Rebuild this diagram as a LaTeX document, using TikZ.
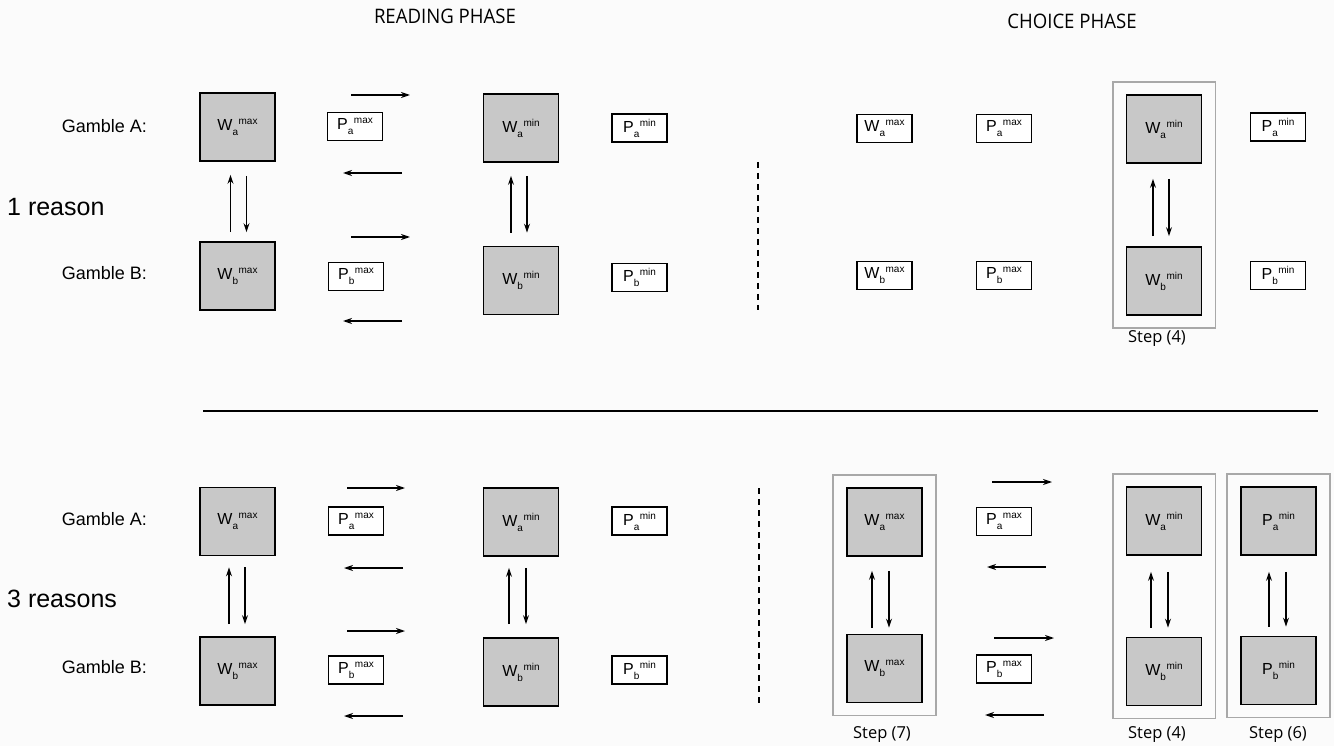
\documentclass[tikz,border=0pt]{standalone}
\usepackage{fontspec}
\setmainfont{Liberation Sans}
\newfontfamily\hdfont{Open Sans}
\usetikzlibrary{arrows.meta,fit,calc}
\newcommand\wlab[3]{#1\raisebox{-5pt}{\fontsize{10}{10}\selectfont #2}\kern0.5pt\raisebox{6pt}{\fontsize{10}{10}\selectfont #3}}
\definecolor{boxgray}{HTML}{C8C8C8}
\definecolor{framegray}{HTML}{A8A8A8}
\definecolor{bg}{HTML}{FBFBFB}
\tikzset{
  bigbox/.style={draw=black,line width=1.8pt,fill=boxgray,minimum width=75pt,minimum height=68pt,inner sep=0pt,font=\fontsize{16}{16}\selectfont},
  smallbox/.style={draw=black,line width=1.8pt,fill=white,minimum width=55pt,minimum height=28pt,inner sep=0pt,font=\fontsize{16}{16}\selectfont},
  framebox/.style={draw=framegray,line width=1.8pt,inner xsep=13pt,inner ysep=12pt},
  conn/.style={line width=1.3pt,-{Stealth[length=9pt,width=6pt]}},
  gamble/.style={anchor=east,font=\fontsize{18}{18}\selectfont,inner sep=0pt},
  reason/.style={anchor=west,font=\fontsize{25}{25}\selectfont,inner sep=0pt},
  header/.style={font=\hdfont\fontsize{20}{20}\selectfont,inner sep=0pt},
  steplab/.style={font=\hdfont\fontsize{16.5}{16.5}\selectfont,inner sep=0pt},
  sep/.style={line width=1.3pt,dash pattern=on 6pt off 5pt}
}
\begin{document}
\begin{tikzpicture}[x=1pt,y=-1pt]
\fill[bg] (0,0) rectangle (1334,746);
\useasboundingbox (0,0) rectangle (1334,746);

% headers
\node[header] (hread) at (445,16) {\scalebox{0.93}[1]{READING PHASE}};
\node[header] (hchoice) at (1072,21) {\scalebox{0.93}[1]{CHOICE PHASE}};

% row labels
\node[gamble] (gA1) at (147,126) {Gamble A:};
\node[gamble] (gB1) at (147,273) {Gamble B:};
\node[reason] (r1) at (7,207) {1 reason};
\node[gamble] (gA2) at (147,519) {Gamble A:};
\node[gamble] (gB2) at (147,667) {Gamble B:};
\node[reason] (r2) at (7,599) {3 reasons};

% ---------- top: reading phase ----------
\node[bigbox] (WAmax1) at (237.5,127) {\wlab{W}{a}{max}};
\node[bigbox] (WBmax1) at (237.5,276) {\wlab{W}{b}{max}};
\node[smallbox] (PAmax1) at (355,126.5) {\wlab{P}{a}{max}};
\node[smallbox] (PBmax1) at (356,276.5) {\wlab{P}{b}{max}};
\node[bigbox] (WAmin1) at (521,128) {\wlab{W}{a}{min}};
\node[bigbox] (WBmin1) at (521,280.5) {\wlab{W}{b}{min}};
\node[smallbox] (PAmin1) at (639.5,128) {\wlab{P}{a}{min}};
\node[smallbox] (PBmin1) at (639.5,277.5) {\wlab{P}{b}{min}};

\draw[conn] ([xshift=-7pt,yshift=9pt]WBmax1.north) -- ([xshift=-7pt,yshift=-13pt]WAmax1.south);
\draw[conn] ([xshift=9pt,yshift=-14pt]WAmax1.south) -- ([xshift=9pt,yshift=9pt]WBmax1.north);
\draw[conn] ([xshift=-10pt,yshift=13pt]WBmin1.north) -- ([xshift=-10pt,yshift=-13pt]WAmin1.south);
\draw[conn] ([xshift=6pt,yshift=-13pt]WAmin1.south) -- ([xshift=6pt,yshift=13pt]WBmin1.north);

\coordinate (a1s) at (351,95);  \coordinate (a1e) at (410,95);
\coordinate (a2s) at (402,173); \coordinate (a2e) at (343,173);
\coordinate (a3s) at (351,237); \coordinate (a3e) at (410,237);
\coordinate (a4s) at (402,321); \coordinate (a4e) at (343,321);
\draw[conn] (a1s) -- (a1e);
\draw[conn] (a2s) -- (a2e);
\draw[conn] (a3s) -- (a3e);
\draw[conn] (a4s) -- (a4e);

\coordinate (d1t) at (758,162); \coordinate (d1b) at (758,310);
\draw[sep] (d1t) -- (d1b);

% ---------- top: choice phase ----------
\node[smallbox] (cWAmax1) at (884.5,128.5) {\wlab{W}{a}{max}};
\node[smallbox] (cPAmax1) at (1004,128.5) {\wlab{P}{a}{max}};
\node[bigbox] (cWAmin1) at (1164,129) {\wlab{W}{a}{min}};
\node[bigbox] (cWBmin1) at (1164,281) {\wlab{W}{b}{min}};
\node[smallbox] (cPAmin1) at (1278,127) {\wlab{P}{a}{min}};
\node[smallbox] (cWBmax1) at (884.5,275.5) {\wlab{W}{b}{max}};
\node[smallbox] (cPBmax1) at (1004,275.5) {\wlab{P}{b}{max}};
\node[smallbox] (cPBmin1) at (1278,275.5) {\wlab{P}{b}{min}};
\node[framebox,fit=(cWAmin1)(cWBmin1)] (fr1) {};
\node[steplab] (st1) at (1157,339) {Step (4)};
\draw[conn] ([xshift=-11pt,yshift=10pt]cWBmin1.north) -- ([xshift=-11pt,yshift=-15pt]cWAmin1.south);
\draw[conn] ([xshift=5pt,yshift=-15pt]cWAmin1.south) -- ([xshift=5pt,yshift=10pt]cWBmin1.north);

% separator
\coordinate (hl) at (203,411); \coordinate (hr) at (1318,411);
\draw[line width=1.3pt] (hl) -- (hr);

% ---------- bottom: reading phase ----------
\node[bigbox] (WAmax2) at (237.5,521.5) {\wlab{W}{a}{max}};
\node[bigbox] (WBmax2) at (237.5,671) {\wlab{W}{b}{max}};
\node[smallbox] (PAmax2) at (356,521) {\wlab{P}{a}{max}};
\node[smallbox] (PBmax2) at (356,670) {\wlab{P}{b}{max}};
\node[bigbox] (WAmin2) at (521,522) {\wlab{W}{a}{min}};
\node[bigbox] (WBmin2) at (521,672) {\wlab{W}{b}{min}};
\node[smallbox] (PAmin2) at (639.5,521) {\wlab{P}{a}{min}};
\node[smallbox] (PBmin2) at (639.5,670) {\wlab{P}{b}{min}};

\draw[conn] ([xshift=-8.5pt,yshift=12pt]WBmax2.north) -- ([xshift=-8.5pt,yshift=-11pt]WAmax2.south);
\draw[conn] ([xshift=7.5pt,yshift=-11pt]WAmax2.south) -- ([xshift=7.5pt,yshift=12pt]WBmax2.north);
\draw[conn] ([xshift=-12pt,yshift=13pt]WBmin2.north) -- ([xshift=-12pt,yshift=-11pt]WAmin2.south);
\draw[conn] ([xshift=5pt,yshift=-11pt]WAmin2.south) -- ([xshift=5pt,yshift=13pt]WBmin2.north);

\coordinate (b1s) at (347,488); \coordinate (b1e) at (405,488);
\coordinate (b2s) at (403,568); \coordinate (b2e) at (344,568);
\coordinate (b3s) at (347,631); \coordinate (b3e) at (405,631);
\coordinate (b4s) at (403,716); \coordinate (b4e) at (344,716);
\draw[conn] (b1s) -- (b1e);
\draw[conn] (b2s) -- (b2e);
\draw[conn] (b3s) -- (b3e);
\draw[conn] (b4s) -- (b4e);

\coordinate (d2t) at (759,488); \coordinate (d2b) at (759,703);
\draw[sep] (d2t) -- (d2b);

% ---------- bottom: choice phase ----------
\node[bigbox] (cWAmax2) at (884.5,522) {\wlab{W}{a}{max}};
\node[bigbox] (cWBmax2) at (884.5,668.5) {\wlab{W}{b}{max}};
\node[smallbox] (cPAmax2) at (1004,521.5) {\wlab{P}{a}{max}};
\node[smallbox] (cPBmax2) at (1004,669) {\wlab{P}{b}{max}};
\node[bigbox] (cWAmin2) at (1164,521) {\wlab{W}{a}{min}};
\node[bigbox] (cWBmin2) at (1164,671.5) {\wlab{W}{b}{min}};
\node[bigbox] (cPAmin2) at (1278.5,521) {\wlab{P}{a}{min}};
\node[bigbox] (cPBmin2) at (1278.5,670.5) {\wlab{P}{b}{min}};

\node[framebox,fit=(cWAmax2)(cWBmax2)] (fr7) {};
\node[framebox,fit=(cWAmin2)(cWBmin2)] (fr4) {};
\node[framebox,fit=(cPAmin2)(cPBmin2)] (fr6) {};
\node[steplab] (st7) at (882,735) {Step (7)};
\node[steplab] (st4) at (1157,735) {Step (4)};
\node[steplab] (st6) at (1278,735) {Step (6)};

\draw[conn] ([xshift=-12.5pt,yshift=6pt]cWBmax2.north) -- ([xshift=-12.5pt,yshift=-14pt]cWAmax2.south);
\draw[conn] ([xshift=4.5pt,yshift=-14pt]cWAmax2.south) -- ([xshift=4.5pt,yshift=6pt]cWBmax2.north);
\draw[conn] ([xshift=-13pt,yshift=9pt]cWBmin2.north) -- ([xshift=-13pt,yshift=-16pt]cWAmin2.south);
\draw[conn] ([xshift=4pt,yshift=-16pt]cWAmin2.south) -- ([xshift=4pt,yshift=9pt]cWBmin2.north);
\draw[conn] ([xshift=-9.5pt,yshift=9pt]cPBmin2.north) -- ([xshift=-9.5pt,yshift=-16pt]cPAmin2.south);
\draw[conn] ([xshift=7.5pt,yshift=-16pt]cPAmin2.south) -- ([xshift=7.5pt,yshift=9pt]cPBmin2.north);

\coordinate (c1s) at (992,482);  \coordinate (c1e) at (1052,482);
\coordinate (c2s) at (1046,567); \coordinate (c2e) at (987,567);
\coordinate (c3s) at (994,638);  \coordinate (c3e) at (1054,638);
\coordinate (c4s) at (1044,715); \coordinate (c4e) at (985,715);
\draw[conn] (c1s) -- (c1e);
\draw[conn] (c2s) -- (c2e);
\draw[conn] (c3s) -- (c3e);
\draw[conn] (c4s) -- (c4e);
\end{tikzpicture}
\end{document}
